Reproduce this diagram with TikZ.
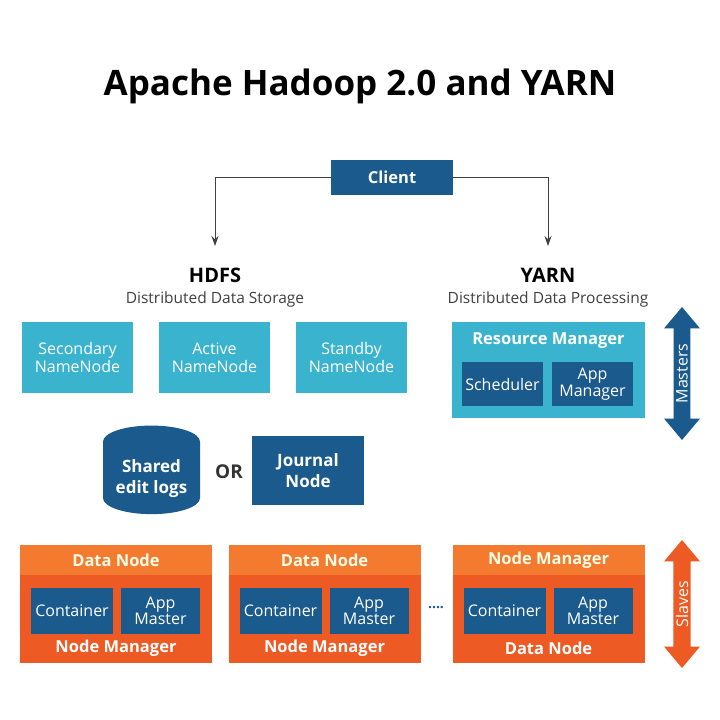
\documentclass[tikz,border=0pt]{standalone}
\usepackage{fontspec}
\setmainfont{Open Sans}
\usetikzlibrary{shapes.geometric,shapes.arrows,arrows.meta}
\definecolor{dblue}{HTML}{1B5A8C}
\definecolor{lblue}{HTML}{3AB3CF}
\definecolor{ohead}{HTML}{F47A30}
\definecolor{obody}{HTML}{EE5A24}
\begin{document}
\begin{tikzpicture}[x=1pt,y=-1pt,
  box/.style={draw=none,fill=#1,text=white,align=center,inner sep=0pt},
  blab/.style={text=white,font=\bfseries\fontsize{16.5}{18}\selectfont,align=center},
  small/.style={font=\fontsize{16}{17}\selectfont},
  conn/.style={draw=black!75,line width=0.9pt,-{Stealth[length=10pt,width=7pt]}},
  darr/.style={double arrow,fill=#1,draw=none,rotate=90,minimum width=36,double arrow head extend=7,double arrow tip angle=80,inner sep=0pt,align=center,text=white,font=\fontsize{16}{18}\selectfont}]
\useasboundingbox[fill=white] (0,0) rectangle (720,720);
\node[font=\bfseries\fontsize{35}{38}\selectfont] (title) at (360,86) {Apache Hadoop 2.0 and YARN};
\node[box=dblue,minimum width=122,minimum height=35,font=\bfseries\fontsize{16.5}{18}\selectfont] (client) at (392,177) {Client};
\coordinate (hin) at (215,246);
\coordinate (yin) at (548,246);
\draw[conn] (client.west) -| (hin);
\draw[conn] (client.east) -| (yin);
\node[font=\bfseries\fontsize{20}{22}\selectfont] (hdfs) at (215,275) {HDFS};
\node[font=\fontsize{15.5}{17}\selectfont,text=black!75] (hdfss) at (215,299) {Distributed Data Storage};
\node[font=\bfseries\fontsize{20}{22}\selectfont] (yarn) at (548,275) {YARN};
\node[font=\fontsize{15.5}{17}\selectfont,text=black!75] (yarns) at (548,299) {Distributed Data Processing};
\foreach \n/\x/\t in {sec/77.5/Secondary\\NameNode, act/214.5/Active\\NameNode, stb/351.5/Standby\\NameNode}
  \node[box=lblue,minimum width=111,minimum height=71,font=\fontsize{16}{18}\selectfont] (\n) at (\x,357.5) {\t};
\node[box=lblue,minimum width=193,minimum height=96] (rm) at (548.5,370) {};
\node[blab] (rmt) at (548.5,341) {Resource Manager};
\node[box=dblue,minimum width=81,minimum height=44,small] (sch) at (502.5,384) {Scheduler};
\node[box=dblue,minimum width=81,minimum height=44,font=\fontsize{16}{17}\selectfont] (am) at (592.5,384) {App\\Manager};
\node[darr=dblue,minimum height=133] (mast) at (682,373.5) {Masters};
\node[cylinder,shape border rotate=90,aspect=0.45,fill=dblue,draw=none,minimum width=97,minimum height=52,text=white,align=center,font=\bfseries\fontsize{17}{21}\selectfont,inner sep=0pt] (logs) at (151.5,478) {\\[-6pt]Shared\\edit logs};
\node[font=\bfseries\fontsize{19}{21}\selectfont,text=black!80] (or) at (229,472) {OR};
\node[box=dblue,minimum width=112,minimum height=69,font=\bfseries\fontsize{17}{21}\selectfont] (jn) at (308,470.5) {Journal\\Node};
\foreach \i/\x/\top/\bot in {1/116/Data Node/Node Manager, 2/324.5/Data Node/Node Manager, 3/548.5/Node Manager/Data Node}{
  \node[box=obody,minimum width=192,minimum height=118] (o\i) at (\x,604) {};
  \node[box=ohead,minimum width=192,minimum height=30,anchor=north] (h\i) at (o\i.north) {};
  \node[blab,text=white!90!yellow] (t\i) at (h\i) {\top};
  \node[box=dblue,minimum width=82,minimum height=46,small] (c\i) at (\x-44,611) {Container};
  \node[box=dblue,minimum width=79,minimum height=46,font=\fontsize{16}{16}\selectfont] (a\i) at (\x+44.5,611) {App\\Master};
  \node[blab] (b\i) at (\x,648) {\bot};
}
\node[font=\bfseries\fontsize{14}{12}\selectfont,text=dblue] (dots) at (436,608) {....};
\node[darr=obody,minimum height=128] (slv) at (682,604) {Slaves};
\end{tikzpicture}
\end{document}
